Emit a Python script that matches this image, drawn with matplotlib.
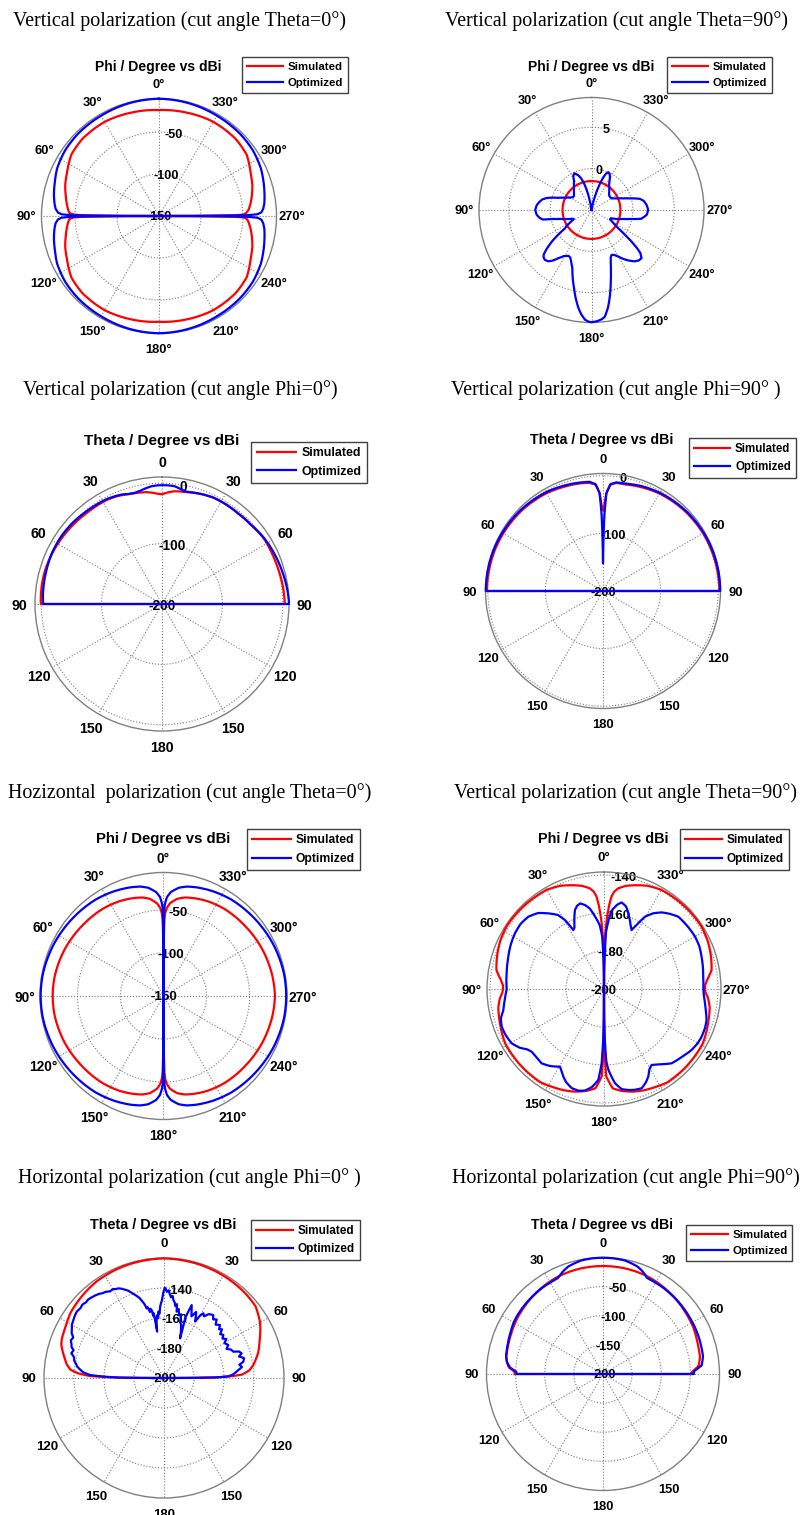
import numpy as np
import matplotlib
matplotlib.use("Agg")
import matplotlib.pyplot as plt

W, H = 803, 1515
DPI = 100
SANS = ["Liberation Sans", "DejaVu Sans"]
SERIF = ["Liberation Serif", "DejaVu Serif"]

# ---------------------------------------------------------------- labels
headers = [
    "Vertical polarization (cut angle Theta=0°)",
    "Vertical polarization (cut angle Theta=90°)",
    "Vertical polarization (cut angle Phi=0°)",
    "Vertical polarization (cut angle Phi=90° )",
    "Hozizontal  polarization (cut angle Theta=0°)",
    "Vertical polarization (cut angle Theta=90°)",
    "Horizontal polarization (cut angle Phi=0° )",
    "Horizontal polarization (cut angle Phi=90°)",
]
phi_title = "Phi / Degree vs dBi"
theta_title = "Theta / Degree vs dBi"
legend_labels = ["Simulated", "Optimized"]
tick_angles = [0, 30, 60, 90, 120, 150, 180, 210, 240, 270, 300, 330]
phi_tick_labels = ["0°", "30°", "60°", "90°", "120°", "150°", "180°",
                   "210°", "240°", "270°", "300°", "330°"]
theta_tick_labels = ["0", "30", "60", "90", "120", "150", "180",
                     "150", "120", "90", "60", "30"]

# ---------------------------------------------------------------- data
# Panel 1 : V-pol, Theta=0 cut (angle in deg, gain in dBi)
p1_ang = [0, 15, 30, 45, 55, 65, 72, 78, 83, 86, 88, 89, 89.5, 90, 90.5, 91, 92, 94,
          97, 102, 108, 115, 125, 135, 150, 165, 180, 195, 210, 225, 235, 245, 252,
          258, 263, 266, 268, 269, 269.5, 270, 270.5, 271, 272, 274, 277, 282, 288,
          295, 305, 315, 330, 345, 360]
p1_sim = [-23.8, -22.5, -20.5, -20.5, -22.5, -29, -32.5, -36.5, -39.5, -41.5, -43, -48,
          -60, -150, -60, -48, -43, -41.5, -39.5, -36.5, -32.5, -29, -22.5, -20.5,
          -20.5, -22.5, -24, -22.5, -20.5, -20.5, -22.5, -29.5, -33, -37, -40.5, -43,
          -45, -49, -60, -150, -60, -49, -46, -43, -40.5, -37, -33, -29.5, -22.5,
          -20.5, -20.5, -22.5, -23.8]
p1_opt = [-10.3, -11, -12, -12.5, -13.5, -16, -19.5, -22, -24.5, -26.5, -29.5, -34,
          -45, -150, -45, -34, -29.5, -26.5, -24.5, -22, -19.5, -16, -13.5, -12.5,
          -12, -11, -10.3, -11, -12, -12.5, -13.5, -16, -19, -21.5, -23.5, -25.5,
          -28, -33, -45, -150, -45, -33, -28, -25.5, -23.5, -21.5, -19, -16, -13.5,
          -12.5, -12, -11, -10.3]

# Panel 2 : V-pol, Theta=90 cut
p2_sim_ang = [0, 30, 60, 90, 120, 150, 180, 210, 240, 270, 300, 330, 360]
p2_sim = [-1.5, -1.5, -1.5, -1.5, -1.5, -1.5, -1.5, -1.5, -1.5, -1.5, -1.5, -1.5, -1.5]
p2_opt_pts = [
    (0, -5), (5, -5), (8, -4.8), (10, -4.2), (12, -3.2), (15, -1.9), (18, -1.0),
    (21, -0.5), (25, -0.1), (28, -0.3), (31, -0.9), (35, -1.3), (40, -1.7),
    (45, -2.0), (50, -2.25), (55, -2.3), (60, -2.0), (65, -1.5), (70, -0.7),
    (73, 0.1), (75, 0.6), (78, 1.1), (81, 1.35), (85, 1.65), (90, 1.8), (95, 1.65),
    (99, 1.3), (101, 1.0), (103, -0.2), (106, -1.1), (110, -1.8), (114, -2.4),
    (117, -2.6), (120, -2.1), (122, -1.6), (124.7, -1.1), (126.5, 0.0),
    (128.5, 1.1), (131, 2.2), (133, 2.9), (134.7, 3.15), (137, 3.25), (140, 3.1),
    (142.5, 2.7), (145.5, 2.06), (149, 1.5), (153.3, 1.2), (156, 1.3),
    (158.5, 1.7), (161.8, 2.4), (164.5, 3.5), (167.4, 4.67), (170, 5.9),
    (172.4, 6.95), (174.5, 7.7), (176.6, 8.28), (178.5, 8.5), (180, 8.57),
    (183, 8.45), (185.5, 8.25), (187.1, 8.0), (189.5, 7.0), (192.3, 5.5),
    (195, 4.0), (197.5, 2.8), (200, 1.8), (202, 1.2), (204.1, 0.94), (207, 1.1),
    (210, 1.5), (213, 2.05), (216.5, 2.6), (220, 3.1), (223, 3.35), (226, 3.4),
    (228.5, 2.9), (230, 2.2), (231.7, 1.15), (233.5, 0.0), (235.7, -1.1),
    (238, -1.7), (241, -2.2), (244, -2.5), (247, -2.45), (250, -1.85),
    (254, -1.07), (257, -0.18), (260, 1.1), (265, 1.7), (270, 1.85), (275, 1.7),
    (280, 1.4), (283, 1.0), (285, 0.4), (287, -0.2), (290, -0.9), (295, -1.7),
    (300, -2.2), (305, -2.25), (309, -2.25), (313, -2.1), (318, -1.8),
    (322, -1.5), (325, -1.3), (328, -0.9), (331, -0.4), (333.5, -0.1), (336, 0.0),
    (338.5, -0.3), (340, -0.8), (342, -1.6), (344, -2.5), (346, -3.4),
    (348, -4.2), (351, -4.8), (354, -5), (360, -5)]

# Panel 3 : V-pol, Phi=0 cut (theta, left side positive)
p3_ang = [90, 90, 85, 80, 74, 65, 56, 48, 40, 34, 28, 23, 20, 17, 14, 11, 8, 5, 2, 0,
          -3, -6, -9, -11, -13, -16, -20, -26, -32, -40, -44, -48, -52, -57, -63,
          -69, -75, -80, -86, -90, -90]
p3_sim = [-200, 0.6, 1.2, 1.5, 1.5, 0.2, -1.5, -3.0, -4.4, -4.8, -5.0, -6.5, -8.0,
          -10, -11, -12, -13, -15, -17.5, -18.3, -15, -12.4, -11.3, -11, -10, -8.3,
          -6.5, -4.3, -4.0, -4.2, -3.6, -3.0, -1.5, 0.5, 0.5, 0.6, 1.2, 2.0, 2.8,
          3.3, -200]
p3_opt = [-200, -3.3, -2.2, -1.5, -0.7, 0.8, 1.0, 0.0, -1.8, -2.7, -3.6, -5.5, -7.0,
          -9.5, -10.5, -9.2, -6.5, -4.2, -3.4, -3.3, -3.3, -3.8, -7.0, -9.4, -9.5,
          -8.3, -6.5, -4.3, -4.0, -4.0, -3.2, -2.8, -1.0, 1.2, 3.0, 4.7, 6.3, 7.8,
          9.5, 10.3, -200]

# Panel 4 : V-pol, Phi=90 cut
p4_ang = [90, 90, 80, 70, 60, 45, 30, 20, 12, 7, 4, 2, 1, 0, -1, -2, -4, -7, -12,
          -20, -30, -45, -60, -70, -80, -90, -90]
p4_sim = [-200, 1.5, 1.2, 0.8, 0, -1.5, -4, -7, -9, -11, -15, -30, -50, -60, -50,
          -30, -15, -11, -11, -8, -4.5, -1.5, 0.5, 1.2, 1.8, 2.0, -200]
p4_opt = [-200, 3.5, 3.2, 2.8, 2, 0.5, -2, -5, -7.5, -9, -14, -30, -70, -152, -70,
          -30, -14, -10, -9.5, -6, -3, 0, 2, 2.8, 3.3, 3.5, -200]

# Panel 5 : H-pol, Theta=0 cut
p5_ang = [0, 0.5, 1, 2, 4, 8, 12, 17, 25, 35, 50, 65, 80, 90, 100, 115, 130, 145,
          155, 163, 168, 172, 176, 178, 179, 179.5, 180, 180.5, 181, 182, 184, 188,
          192, 197, 205, 215, 230, 245, 260, 270, 280, 295, 310, 325, 335, 343, 348,
          352, 356, 358, 359, 359.5, 360]
p5_sim = [-118, -62, -55, -48, -42, -36, -33, -31, -28.5, -26.5, -25, -23, -21.5,
          -21.2, -21.5, -23, -25, -26.5, -28.5, -31, -33, -36, -42, -48, -55, -62,
          -150, -62, -55, -48, -42, -36, -33, -31, -28.5, -26.5, -25, -23, -21.3,
          -20.5, -21.3, -23, -25, -26.5, -28.5, -31, -33, -36, -42, -48, -55, -62,
          -118]
p5_opt = [-150, -48, -42, -35, -29, -23, -20, -18, -15.5, -13, -11, -9, -7.5, -7.2,
          -7.5, -9, -11, -13, -15.5, -18, -20, -23, -29, -35, -42, -48, -150, -48,
          -42, -35, -29, -23, -20, -18, -15.5, -13, -11, -9, -7.6, -7.4, -7.6, -9,
          -11, -13, -15.5, -18, -20, -23, -29, -35, -42, -48, -150]

# Panel 6 : V-pol, Theta=90 cut (second set)
p6_sim_pts = [
    (0, -200), (0.5, -185), (1, -175), (2.2, -164), (3.5, -156), (4.7, -151),
    (6, -148.5), (8, -146.5), (12, -144.5), (16.6, -143), (23, -141),
    (30, -139.7), (45, -139.2), (57, -139), (65, -139.8), (70, -140.6),
    (75, -141.5), (80, -142.5), (85, -145.5), (88, -146.8), (90, -146.8),
    (92, -146.5), (95, -145), (100, -143.5), (107, -142.5), (119, -140.6),
    (133, -140.5), (146, -140.6), (152, -141.7), (158, -142.6), (164, -143.8),
    (170, -145.5), (175, -147.5), (178.5, -154), (179.3, -165), (179.7, -180),
    (180, -200), (180.3, -180), (180.7, -165), (181.5, -154), (185, -147.5),
    (190, -145.5), (196, -143.8), (202, -142.6), (208, -141.7), (214, -140.6),
    (227, -140.5), (241, -140.6), (253, -142.5), (260, -143.5), (265, -145),
    (268, -146.5), (270, -146.8), (272, -146.8), (275, -145.5), (280, -142.5),
    (285, -141.5), (290, -140.6), (295, -139.8), (303, -139), (315, -139.2),
    (330, -139.7), (337, -141), (343.4, -143), (348, -144.5), (352, -146.5),
    (354, -148.5), (355.3, -151), (356.5, -156), (357.8, -164), (359, -175),
    (359.5, -185), (360, -200)]
p6_opt_pts = [
    (0, -200), (1, -185), (2, -172), (4, -166), (7, -161.6), (10, -157),
    (12.7, -154.7), (15.6, -153.2), (18, -154), (20.2, -155.7), (23, -160),
    (25.5, -164), (27.5, -165), (29.5, -158.3), (32, -154), (36.3, -150.6),
    (41, -147), (46.3, -144.9), (52, -144.3), (58, -144.7), (65, -145.7),
    (71.3, -146.8), (80, -148), (90, -148.8), (96, -147.5), (101.8, -145.9),
    (106, -143.5), (110.2, -142.6), (115, -142.8), (120.5, -143.6), (125, -146),
    (128, -148.5), (130.9, -149.6), (135, -149.5), (140, -148.9), (145, -150.5),
    (150.5, -153), (152.5, -151.5), (155.1, -149.1), (158, -147), (162, -145.1),
    (166, -144.8), (169.4, -145.6), (173, -148), (176.4, -152), (178.2, -160.9),
    (179.2, -175), (180, -200), (180.8, -175), (181.8, -162), (183.1, -157.4),
    (186.7, -150), (190, -146.5), (193.5, -145.3), (197, -144.5), (200.8, -144.1),
    (204, -146), (206.8, -148.3), (209.5, -151.5), (212.1, -152.8), (216, -151),
    (222.3, -147.1), (227.6, -145.9), (231, -145), (235.2, -143.8), (240, -143),
    (244, -142.8), (249, -143), (253.2, -143.6), (258, -145.2), (261.9, -146.3),
    (266, -147.3), (270, -147.7), (277.1, -147.4), (283, -146.6), (288.3, -145.9),
    (294, -145), (299.9, -144.7), (307, -145), (314.2, -145.4), (319, -147.5),
    (323, -149.5), (327, -152.5), (330.5, -156.3), (332.5, -161), (334.9, -165.7),
    (337, -164), (341, -159.5), (345, -155), (348.5, -153.5), (351, -155),
    (354, -158), (356, -163), (358, -170), (359, -185), (360, -200)]

# Panel 7 : H-pol, Phi=0 cut
p7_sim_pts = [
    (90, -200), (89.7, -180), (89.3, -165), (88.5, -150.7), (87, -143),
    (85, -137.5), (82, -134.5), (78, -132), (75.4, -130.2), (72, -128),
    (68.8, -127), (63.4, -126.2), (55, -124), (46.5, -122.9), (35, -121.5),
    (20, -120.8), (0, -120.3), (-20, -120.8), (-35, -121.3), (-45, -121.8),
    (-52, -122.5), (-60, -126), (-67.5, -130.8), (-75, -135), (-81.7, -139.8),
    (-85, -143), (-87.5, -148), (-88.5, -155), (-89.3, -165), (-89.7, -180),
    (-90, -200)]
p7_opt_pts = [
    (90, -200), (89.5, -170), (88.5, -158), (87.7, -150.7), (86, -146),
    (84, -143.5), (82.5, -141.5), (81.5, -141.1), (79, -139), (77, -138.5),
    (75, -136), (73, -137), (71.5, -135), (70.3, -134.6), (68, -133),
    (66, -133.8), (64, -131.5), (62, -130.5), (60.1, -129.1), (58, -128.5),
    (56, -127.8), (54, -127.2), (52.8, -126.9), (50, -127.4), (48, -126.8),
    (46, -127.6), (44, -127.2), (42.9, -127.5), (40, -128.3), (38, -129),
    (36, -130.2), (34.5, -130.5), (33.6, -130.9), (32, -132), (30, -131.6),
    (28.5, -132.6), (27, -132.9), (25.5, -134), (24, -135.5), (22.5, -136.8),
    (21.5, -138.2), (20, -140.5), (19, -141.5), (18, -143), (17, -144.2),
    (16, -146.5), (15, -148.5), (14.5, -150), (14, -152.2), (13, -151.5),
    (12, -155), (11, -153), (10.3, -154), (9.8, -158), (9.3, -156), (8.8, -160),
    (8.6, -164), (8.4, -168.7), (7.5, -162), (6.5, -158), (5.5, -160),
    (4.9, -155.6), (4, -157), (3, -152), (2.3, -150), (1.75, -149), (1.2, -147),
    (0.5, -143), (-0.6, -139.8), (-2, -142.5), (-3, -141.5), (-4.1, -144.5),
    (-5, -146), (-6, -145), (-6.8, -147.6), (-8, -149), (-9, -151.5),
    (-10, -150), (-10.8, -155), (-12, -153), (-13.5, -157), (-15, -156),
    (-16, -161), (-18, -163), (-20, -167), (-22, -171.5), (-19.4, -157.8),
    (-20.8, -148), (-22.5, -152), (-24, -155), (-26, -151), (-28.8, -157),
    (-30, -152), (-31.3, -149.5), (-33, -151), (-35, -148), (-38, -146.7),
    (-40, -149), (-42, -147.5), (-44, -150.5), (-46.6, -148.6), (-48.5, -151),
    (-50, -149.5), (-52, -152.5), (-54, -151.1), (-56, -153), (-58, -151),
    (-60, -153.5), (-62.8, -151.8), (-65, -154), (-67, -151.5), (-69.2, -150.6),
    (-70.5, -147), (-72.4, -145.7), (-74, -148), (-76, -145), (-78.4, -146),
    (-80, -149), (-82, -147.5), (-83.9, -150.2), (-85.5, -152), (-87, -153.8),
    (-88.5, -157), (-89.4, -165), (-90, -200)]

# Panel 8 : H-pol, Phi=90 cut
p8_ang = [90, 90, 89, 88.5, 86, 83, 79.8, 72, 66, 60, 56.5, 50, 45, 40, 35, 30, 28,
          25.2, 23.5, 21, 18, 14, 10.8, 5, 0, -5, -10.8, -14, -18, -21, -23.5, -24.4,
          -27, -30, -35, -40, -45, -50, -56, -62.7, -70, -75, -80, -85, -88, -89,
          -90, -90]
p8_sim = [-200, -48, -48.4, -48.4, -38, -34, -31.4, -29.5, -27.8, -25.5, -24.3,
          -22.5, -21, -19.5, -18.2, -17, -16.5, -16, -15.8, -15.5, -15.2, -15,
          -14.8, -14.7, -14.6, -14.7, -14.8, -15, -15.2, -15.5, -15.8, -16, -16.5,
          -17, -18.3, -19.8, -21, -22.5, -24, -25.5, -28.5, -30, -31, -35, -45, -48,
          -48, -200]
p8_opt = [-200, -52, -51, -51, -40, -34, -31, -28.5, -26, -23, -22, -21, -20.3,
          -19.8, -19, -18.8, -18.5, -18, -15, -10.5, -6.2, -3.5, -1.5, -0.6, -0.5,
          -0.6, -1.5, -3.5, -6.5, -11, -16, -18.5, -19, -19.2, -19.5, -20, -20.5,
          -21.3, -22.2, -23, -24, -25, -25.7, -30, -42.6, -44, -44, -200]

# ---------------------------------------------------------------- layout (pixels)
panels = [
    dict(sim=(p1_ang, p1_sim), opt=(p1_ang, p1_opt), kind="phi",
         center=(159, 216), R=117.5, rlim=(-150, -10), rticks=[-150, -100, -50],
         head=(13, 21.5), title_xy=(158.5, 67), leg=(348, 57), s=0.99),
    dict(sim=(p2_sim_ang, p2_sim), opt=([a for a, v in p2_opt_pts], [v for a, v in p2_opt_pts]),
         kind="phi", center=(591.5, 210), R=112.5, rlim=(-5, 8.6), rticks=[0, 5],
         head=(445, 21.5), title_xy=(591, 66.7), leg=(771.7, 57.3), s=0.98),
    dict(sim=(p3_ang, p3_sim), opt=(p3_ang, p3_opt), kind="theta",
         center=(162, 604), R=127, rlim=(-200, 10.3), rticks=[-200, -100, 0],
         head=(22.7, 390.5), title_xy=(162, 440.7), leg=(366.7, 441.7), s=1.08),
    dict(sim=(p4_ang, p4_sim), opt=(p4_ang, p4_opt), kind="theta",
         center=(603, 591), R=117.5, rlim=(-200, 4), rticks=[-200, -100, 0],
         head=(450.7, 390.5), title_xy=(602, 440), leg=(795.7, 437.7), s=1.0),
    dict(sim=(p5_ang, p5_sim), opt=(p5_ang, p5_opt), kind="phi",
         center=(163.5, 996), R=123.5, rlim=(-150, -6.5), rticks=[-150, -100, -50],
         head=(8.3, 793), title_xy=(163.3, 839.3), leg=(360, 829.3), s=1.05),
    dict(sim=([a for a, v in p6_sim_pts], [v for a, v in p6_sim_pts]),
         opt=([a for a, v in p6_opt_pts], [v for a, v in p6_opt_pts]), kind="phi",
         center=(604, 989), R=117, rlim=(-200, -138.4), rticks=[-200, -180, -160, -140],
         head=(454, 793), title_xy=(603.5, 839.3), leg=(789, 829.3), s=1.02),
    dict(sim=([a for a, v in p7_sim_pts], [v for a, v in p7_sim_pts]),
         opt=([a for a, v in p7_opt_pts], [v for a, v in p7_opt_pts]), kind="theta",
         center=(164, 1378), R=120, rlim=(-200, -120), rticks=[-200, -180, -160, -140],
         head=(18.3, 1178.5), title_xy=(163, 1225), leg=(360, 1220), s=1.02),
    dict(sim=(p8_ang, p8_sim), opt=(p8_ang, p8_opt), kind="theta",
         center=(603, 1374), R=116.5, rlim=(-200, 0), rticks=[-200, -150, -100, -50],
         head=(451.7, 1178.5), title_xy=(602, 1225), leg=(792.3, 1225), s=0.99),
]

fig = plt.figure(figsize=(W / DPI, H / DPI), dpi=DPI)
fig.patch.set_facecolor("white")


def fx(px):
    return px / W


def fy(py):
    return 1.0 - py / H


for i, p in enumerate(panels):
    cx, cy = p["center"]
    R = p["R"]
    s = p["s"]
    ax = fig.add_axes([fx(cx - R), fy(cy + R), 2 * R / W, 2 * R / H], projection="polar")
    ax.set_theta_zero_location("N")
    ax.set_theta_direction(1)

    ln_s, = ax.plot(np.deg2rad(p["sim"][0]), p["sim"][1], color="#ff0000", lw=1.6,
                    label=legend_labels[0], clip_on=False, zorder=3)
    ln_o, = ax.plot(np.deg2rad(p["opt"][0]), p["opt"][1], color="#0000ff", lw=1.6,
                    label=legend_labels[1], clip_on=False, zorder=4)
    # let the polar transform draw each segment as a curve (linear in angle and radius)
    for ln in (ln_s, ln_o):
        ln.get_path()._interpolation_steps = 40

    ax.set_rlim(*p["rlim"])
    ax.set_rgrids(p["rticks"], labels=[str(t) for t in p["rticks"]], angle=-10,
                  fontsize=9.2 * s, fontweight="bold", family=SANS)
    for t in ax.get_yticklabels():
        t.set_horizontalalignment("center")
        t.set_verticalalignment("center_baseline")
    ax.set_rlim(*p["rlim"])

    labels = phi_tick_labels if p["kind"] == "phi" else theta_tick_labels
    ax.set_thetagrids(tick_angles, labels=labels, fontsize=9.4 * s,
                      fontweight="bold", family=SANS)
    for t in ax.get_xticklabels():
        t.set_verticalalignment("center_baseline")
    ax.tick_params(axis="x", pad=4, length=0)
    ax.tick_params(axis="y", pad=0, length=0)

    ax.grid(True, color="#7a7a7a", linestyle=":", linewidth=0.8)
    ax.spines["polar"].set_edgecolor("#808080")
    ax.spines["polar"].set_linewidth(1.0)

    leg = ax.legend(loc="upper right", bbox_to_anchor=(fx(p["leg"][0]), fy(p["leg"][1])),
                    bbox_transform=fig.transFigure, borderaxespad=0, frameon=True,
                    fancybox=False, framealpha=1, edgecolor="#404040",
                    prop={"family": SANS, "weight": "bold", "size": 8.3 * s},
                    handlelength=3.2, handletextpad=0.4, borderpad=0.42,
                    labelspacing=0.55)
    leg.get_frame().set_linewidth(1.0)

    title = phi_title if p["kind"] == "phi" else theta_title
    fig.text(fx(p["title_xy"][0]), fy(p["title_xy"][1]), title, ha="center",
             va="center", fontsize=10.2 * s, fontweight="bold", family=SANS)
    fig.text(fx(p["head"][0]), fy(p["head"][1]), headers[i], ha="left", va="center",
             fontsize=14.4, family=SERIF)

fig.savefig("out.png", dpi=DPI, facecolor="white")
